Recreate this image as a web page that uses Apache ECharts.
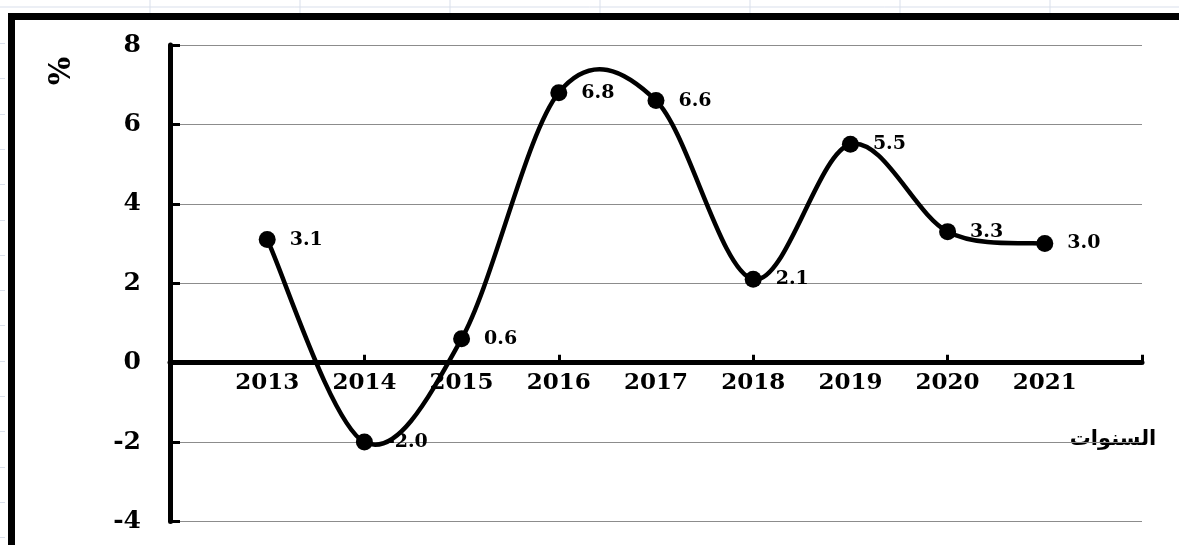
<!DOCTYPE html>
<html>
<head>
<meta charset="utf-8">
<title>معدل النمو</title>
<script src="https://cdn.jsdelivr.net/npm/echarts@6/dist/echarts.min.js"></script>
<style>
  html, body { margin: 0; padding: 0; background: #ffffff; }
  #chart { width: 1179px; height: 545px; }
</style>
</head>
<body>
<div id="chart"></div>
<script>
// Years on the horizontal axis
const years = ['2013', '2014', '2015', '2016', '2017', '2018', '2019', '2020', '2021'];
// Annual growth rate (%)
const growth = [3.1, -2.0, 0.6, 6.8, 6.6, 2.1, 5.5, 3.3, 3.0];
// Vertical axis range and step
const yMin = -4;
const yMax = 8;
const yStep = 2;
// Axis titles
const yTitle = '%';
const xTitle = 'السنوات';

// The axis runs one empty slot beyond the first and last year
const categories = [''].concat(years, ['']);
const seriesData = [null].concat(growth, [null]);

const numFont = 'DejaVu Serif';
const sheetLine = '#d9dfeb';

const gridBox = { left: 170, right: 37, top: 45, bottom: 23.5 };
const chartH = 545;
const plotH = chartH - gridBox.top - gridBox.bottom;
// lift the category axis up to the zero line
const zeroLift = -plotH * (0 - yMin) / (yMax - yMin);

// Light worksheet cell lines behind the chart frame
const sheetMarks = [];
sheetMarks.push({
  type: 'line', silent: true,
  shape: { x1: 0, y1: 7, x2: 1179, y2: 7 },
  style: { stroke: sheetLine, lineWidth: 1 }
});
for (let x = 150; x < 1179; x += 150) {
  sheetMarks.push({
    type: 'line', silent: true,
    shape: { x1: x, y1: 0, x2: x, y2: 13 },
    style: { stroke: sheetLine, lineWidth: 1 }
  });
}
for (let y = 43; y < 545; y += 35.3) {
  sheetMarks.push({
    type: 'line', silent: true,
    shape: { x1: 0, y1: Math.round(y) + 0.5, x2: 5, y2: Math.round(y) + 0.5 },
    style: { stroke: sheetLine, lineWidth: 1 }
  });
}

// Smoothed curve through the yearly points (cardinal spline, tension 1/6)
function renderCurve(params, api) {
  if (params.dataIndex !== 0) return null;
  const pts = growth.map(function (v, i) { return api.coord([i + 1, v]); });
  const n = pts.length;
  const children = [];
  for (let i = 0; i < n - 1; i++) {
    const p0 = pts[Math.max(i - 1, 0)];
    const p1 = pts[i];
    const p2 = pts[i + 1];
    const p3 = pts[Math.min(i + 2, n - 1)];
    children.push({
      type: 'bezierCurve',
      shape: {
        x1: p1[0], y1: p1[1], x2: p2[0], y2: p2[1],
        cpx1: p1[0] + (p2[0] - p0[0]) / 6, cpy1: p1[1] + (p2[1] - p0[1]) / 6,
        cpx2: p2[0] - (p3[0] - p1[0]) / 6, cpy2: p2[1] - (p3[1] - p1[1]) / 6
      },
      style: { stroke: '#000', lineWidth: 4.5, fill: null, lineCap: 'round' }
    });
  }
  return { type: 'group', children: children };
}

const chart = echarts.init(document.getElementById('chart'), null, { renderer: 'canvas' });

chart.setOption({
  backgroundColor: '#ffffff',
  animation: false,
  grid: { left: gridBox.left, right: gridBox.right, top: gridBox.top, bottom: gridBox.bottom, containLabel: false },
  xAxis: {
    type: 'category',
    data: categories,
    boundaryGap: false,
    position: 'bottom',
    offset: zeroLift,
    axisLine: { show: true, onZero: false, lineStyle: { color: '#000', width: 5 } },
    axisTick: {
      show: true, inside: true, length: 8,
      interval: function (i) { return i % 2 === 0; },
      lineStyle: { color: '#000', width: 3 }
    },
    axisLabel: {
      interval: 0, margin: 9,
      color: '#000', fontFamily: numFont, fontWeight: 'bold', fontSize: 23
    },
    splitLine: { show: false }
  },
  yAxis: {
    type: 'value',
    min: yMin, max: yMax, interval: yStep,
    axisLine: { show: true, lineStyle: { color: '#000', width: 5 } },
    axisTick: { show: true, inside: true, length: 10, lineStyle: { color: '#000', width: 3 } },
    axisLabel: {
      margin: 29, color: '#000', fontFamily: numFont, fontWeight: 'bold', fontSize: 25
    },
    splitLine: { show: true, lineStyle: { color: '#8c8c8c', width: 1.2 } }
  },
  series: [
    {
      type: 'custom',
      data: [0],
      renderItem: renderCurve,
      silent: true,
      z: 3
    },
    {
      type: 'line',
      data: seriesData,
      symbol: 'circle',
      symbolSize: 17,
      showSymbol: true,
      lineStyle: { opacity: 0 },
      itemStyle: { color: '#000' },
      label: {
        show: true, position: 'right', distance: 14,
        color: '#000', fontFamily: numFont, fontWeight: 'bold', fontSize: 19,
        formatter: function (p) { return p.value == null ? '' : Number(p.value).toFixed(1); }
      },
      z: 5
    }
  ],
  graphic: sheetMarks.concat([
    // chart frame, top and left edges
    { type: 'rect', silent: true, shape: { x: 8, y: 13, width: 1171, height: 7 }, style: { fill: '#000' } },
    { type: 'rect', silent: true, shape: { x: 8, y: 13, width: 7, height: 532 }, style: { fill: '#000' } },
    {
      type: 'text', silent: true, x: 62, y: 71, rotation: Math.PI / 2,
      style: {
        text: yTitle, fill: '#000', font: 'bold 30px "DejaVu Serif"',
        textAlign: 'center', textVerticalAlign: 'middle'
      }
    },
    {
      type: 'text', silent: true, x: 1113, y: 440,
      style: {
        text: xTitle, fill: '#000', font: 'bold 21px "DejaVu Sans"',
        textAlign: 'center', textVerticalAlign: 'middle'
      }
    }
  ])
});
</script>
</body>
</html>
